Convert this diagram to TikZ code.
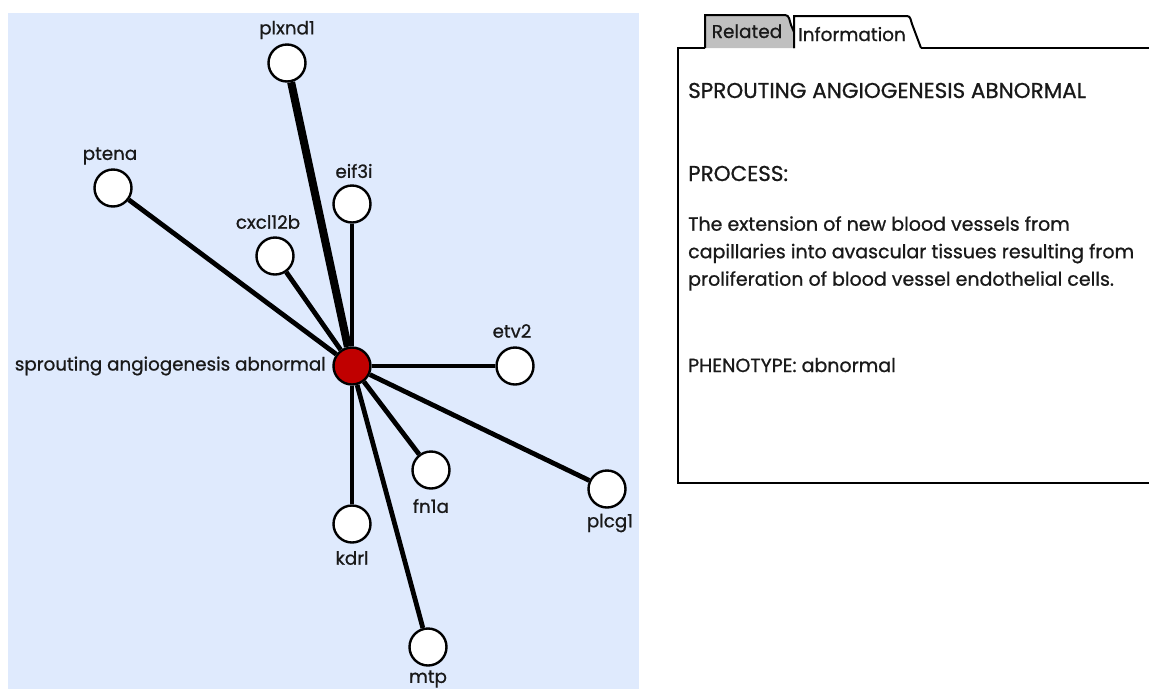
\documentclass[tikz,border=0pt]{standalone}
\usepackage{fontspec}
\setmainfont{Poppins}[RawFeature={embolden=0.8}]
\definecolor{panelblue}{RGB}{223,234,253}
\definecolor{hubred}{RGB}{192,0,0}
\definecolor{tabgray}{RGB}{192,192,192}
\begin{document}
\begin{tikzpicture}[x=1pt,y=-1pt,
  gene/.style={circle,draw=black,line width=2.4pt,fill=white,minimum size=37pt,inner sep=0pt},
  hub/.style={circle,draw=black,line width=2.4pt,fill=hubred,minimum size=37pt,inner sep=0pt},
  glabel/.style={font=\fontsize{18.3}{20}\selectfont,text=black!90,inner sep=0pt},
  link/.style={line width=4.8pt,draw=black},
  info/.style={font=\fontsize{19}{27.5}\selectfont,text=black!90,inner sep=0pt,anchor=base west},
  caps/.style={info,font=\fontsize{21.5}{24}\selectfont},
  tabtext/.style={font=\fontsize{18.5}{20}\selectfont,text=black!90,inner sep=0pt,anchor=base}]
\useasboundingbox (0,0) rectangle (1149,689);
\fill[white] (0,0) rectangle (1149,689);
% network panel
\fill[panelblue] (8,13) rectangle (639,689);
% nodes
\node[hub] (c) at (352,366) {};
\node[gene] (plxnd1) at (287,63) {};
\node[gene] (ptena) at (113,188) {};
\node[gene] (eif3i) at (352,204) {};
\node[gene] (cxcl12b) at (275,256) {};
\node[gene] (etv2) at (515,366) {};
\node[gene] (plcg1) at (607,489) {};
\node[gene] (fn1a) at (431,470) {};
\node[gene] (kdrl) at (352,524) {};
\node[gene] (mtp) at (428,647) {};
% connectors
\draw[link,line width=8pt] (c) -- (plxnd1);
\foreach \n in {ptena,eif3i,cxcl12b,etv2,plcg1,fn1a,kdrl,mtp}
  \draw[link] (c) -- (\n);
% labels
\node[glabel,anchor=east] (lc) at (326,366) {sprouting angiogenesis abnormal};
\node[glabel] (l1) at (287,30) {plxnd1};
\node[glabel] (l2) at (110,156) {ptena};
\node[glabel] (l3) at (354,171) {eif3i};
\node[glabel] (l4) at (268,222) {cxcl12b};
\node[glabel] (l5) at (512,331) {etv2};
\node[glabel] (l6) at (610,523) {plcg1};
\node[glabel] (l7) at (431,506) {fn1a};
\node[glabel] (l8) at (352,558) {kdrl};
\node[glabel] (l9) at (428,679) {mtp};
% information panel with tabs
\fill[white] (678,48) rectangle (1149,483);
\draw[line width=2pt,fill=tabgray]
  (705,48) -- (705,15) -- (785,15) to[out=0,in=110] (791,25) -- (794,32) -- (794,48);
\draw[line width=2pt,fill=white]
  (794,48) -- (794,16) -- (907,16) to[out=0,in=110] (912,24) -- (921,48);
\draw[line width=2pt] (1149,48) -- (921,48);
\draw[line width=2pt] (705,48) -- (678,48) -- (678,483) -- (1149,483);
\node[tabtext] (t1) at (747,38) {Related};
\node[tabtext] (t2) at (852,41) {Information};
\node[caps] (h) at (688,98) {SPROUTING ANGIOGENESIS ABNORMAL};
\node[caps] (p) at (688,181) {PROCESS:};
\node[info,align=left,anchor=north west] (d) at (688,216)
  {The extension of new blood vessels from\\capillaries into avascular tissues resulting from\\proliferation of blood vessel endothelial cells.};
\node[info] (ph) at (688,372) {PHENOTYPE: abnormal};
\end{tikzpicture}
\end{document}
